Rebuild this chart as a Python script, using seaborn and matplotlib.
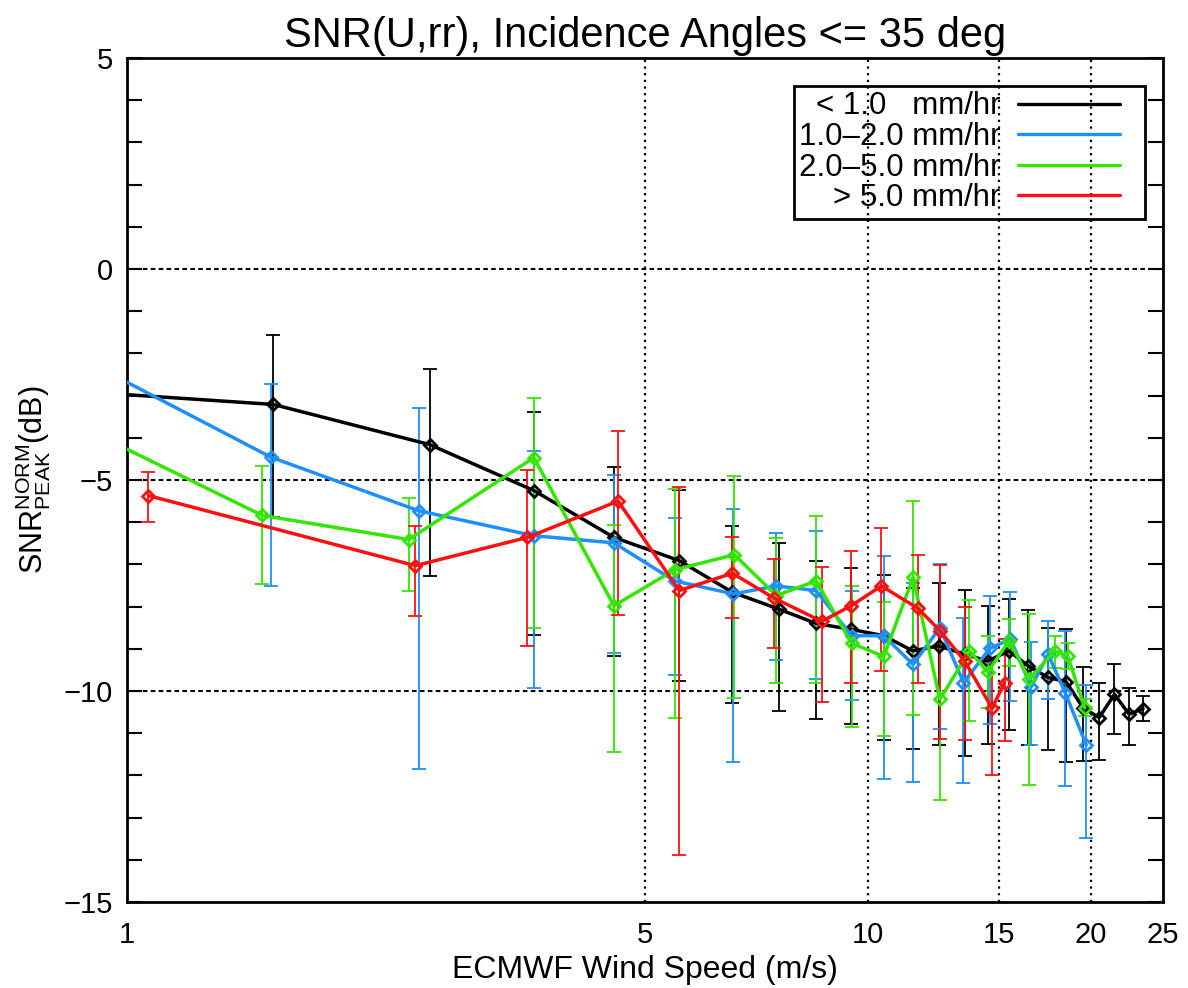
import numpy as np
import pandas as pd
import matplotlib
matplotlib.use("Agg")
import matplotlib.pyplot as plt
import seaborn as sns
from matplotlib.lines import Line2D
from matplotlib.legend_handler import HandlerBase
from matplotlib.ticker import FixedLocator, NullLocator, MultipleLocator

# ---------------- data ----------------
series_labels = ["< 1.0   mm/hr", "1.0\u20132.0 mm/hr", "2.0\u20135.0 mm/hr", "> 5.0 mm/hr"]
series_colors = ["#000000", "#1e8fff", "#33e600", "#ff1010"]

blk_x = [0.58, 1.576, 2.56, 3.54, 4.54, 5.56, 6.56, 7.58, 8.51, 9.49, 10.5, 11.49, 12.45,
         13.5, 14.5, 15.5, 16.45, 17.5, 18.5, 19.5, 20.5, 21.5, 22.5, 23.5]
blk_y = [-2.70, -3.21, -4.16, -5.25, -6.36, -6.91, -7.66, -8.06, -8.40, -8.54, -8.69, -9.05, -8.93,
         -9.13, -9.29, -9.05, -9.41, -9.68, -9.78, -10.40, -10.63, -10.08, -10.55, -10.42]
blk_lo = [-4.0, -5.88, -7.27, -8.67, -9.18, -9.76, -10.29, -10.47, -10.66, -10.78, -11.15, -11.37, -11.29,
          -11.54, -11.25, -10.93, -11.29, -11.39, -11.69, -11.66, -11.64, -11.01, -11.28, -10.71]
blk_hi = [-1.5, -1.57, -2.36, -3.39, -4.70, -5.23, -6.08, -6.50, -6.91, -7.09, -7.24, -7.56, -7.43,
          -7.61, -7.98, -7.82, -8.08, -8.50, -8.54, -9.43, -9.80, -9.35, -9.92, -10.12]

blu_x = [0.58, 1.564, 2.476, 3.54, 4.54, 5.48, 6.58, 7.52, 8.51, 9.5, 10.5, 11.5, 12.5,
         13.45, 14.6, 15.56, 16.6, 17.5, 18.45, 19.7]
blu_y = [-0.52, -4.46, -5.73, -6.32, -6.49, -7.39, -7.70, -7.51, -7.62, -8.69, -8.69, -9.37, -8.50,
         -9.80, -8.99, -8.77, -9.90, -9.13, -10.04, -11.28]
blu_lo = [-2.0, -7.52, -11.84, -9.92, -9.11, -9.63, -11.68, -9.26, -9.72, -10.22, -12.08, -12.15, -10.89,
          -12.18, -10.79, -10.24, -11.29, -10.20, -12.24, -13.48]
blu_hi = [1.0, -2.72, -3.29, -4.32, -4.88, -5.91, -5.68, -6.25, -6.20, -7.62, -6.81, -7.45, -6.98,
          -8.27, -7.74, -7.66, -8.85, -8.34, -8.57, -9.86]

grn_x = [0.58, 1.523, 2.40, 3.54, 4.54, 5.48, 6.6, 7.52, 8.51, 9.5, 10.5, 11.5, 12.5,
         13.7, 14.5, 15.5, 16.5, 17.85, 18.6, 19.6]
grn_y = [-2.24, -5.84, -6.41, -4.47, -7.98, -7.13, -6.77, -7.74, -7.39, -8.87, -9.18, -7.31, -10.20,
         -9.05, -9.55, -8.81, -9.72, -9.05, -9.18, -10.40]
grn_lo = [-3.5, -7.47, -7.64, -8.51, -11.44, -10.65, -10.16, -9.80, -9.80, -10.85, -11.07, -10.58, -12.59,
          -10.71, -10.40, -9.41, -12.22, -9.45, -9.49, -10.60]
grn_hi = [-1.0, -4.68, -5.42, -3.06, -6.06, -5.21, -4.91, -6.37, -5.86, -7.51, -7.88, -5.50, -8.60,
          -7.85, -8.70, -8.30, -8.18, -8.70, -8.87, -10.20]

red_x = [1.069, 2.45, 3.47, 4.60, 5.56, 6.56, 7.47, 8.66, 9.49, 10.42, 11.67, 12.5, 13.5, 14.7, 15.28]
red_y = [-5.37, -7.03, -6.36, -5.50, -7.62, -7.21, -7.80, -8.35, -7.98, -7.51, -8.04, -8.57, -9.29,
         -10.41, -9.80]
red_lo = [-5.99, -8.23, -8.93, -8.20, -13.88, -8.27, -8.99, -10.25, -9.82, -9.52, -9.82, -11.13, -11.15,
          -11.98, -11.19]
red_hi = [-4.81, -6.08, -4.76, -3.84, -5.17, -6.36, -6.87, -7.05, -6.69, -6.14, -6.78, -7.01, -8.02,
          -9.25, -8.77]

x_ticks = [1, 5, 10, 15, 20, 25]
x_ticklabels = ["1", "5", "10", "15", "20", "25"]
y_ticks = [5, 0, -5, -10, -15]
h_grid = [0, -5, -10]
v_grid = [5, 10, 15, 20]

# ---------------- build data frame ----------------
frames = []
for lab, xs, ys, lo, hi in zip(series_labels,
                               [blk_x, blu_x, grn_x, red_x],
                               [blk_y, blu_y, grn_y, red_y],
                               [blk_lo, blu_lo, grn_lo, red_lo],
                               [blk_hi, blu_hi, grn_hi, red_hi]):
    frames.append(pd.DataFrame({"wind": xs, "snr": ys, "lo": lo, "hi": hi, "rate": lab}))
df = pd.concat(frames, ignore_index=True)

# ---------------- figure ----------------
sns.set_style("ticks")
plt.rcParams["font.family"] = ["Liberation Sans", "DejaVu Sans"]
plt.rcParams["mathtext.fontset"] = "custom"
plt.rcParams["mathtext.rm"] = "Liberation Sans"
plt.rcParams["mathtext.it"] = "Liberation Sans"
plt.rcParams["axes.unicode_minus"] = True
for key in ["text.color", "axes.labelcolor", "xtick.color", "ytick.color", "axes.edgecolor"]:
    plt.rcParams[key] = "black"


class PartLine(HandlerBase):
    """Legend handle: a line that fills only the left part of the handle box."""
    def create_artists(self, legend, orig_handle, xdescent, ydescent, width, height,
                       fontsize, trans):
        y = height / 2.0 - ydescent
        ln = Line2D([-xdescent, -xdescent + 0.84 * width], [y, y],
                    color=orig_handle.get_color(), lw=orig_handle.get_linewidth())
        ln.set_transform(trans)
        return [ln]


fig = plt.figure(figsize=(11.88, 9.88), dpi=100)
ax = fig.add_axes([127 / 1188, 1 - 902 / 988, (1163 - 127) / 1188, (902 - 58) / 988])
ax.set_facecolor("white")

for y in h_grid:
    ax.axhline(y, color="black", lw=1.5, ls=(0, (2.2, 1.6)), zorder=1)
for x in v_grid:
    ax.axvline(x, color="black", lw=1.6, ls=(0, (1, 2)), zorder=1)

for lab, col in zip(series_labels, series_colors):
    sub = df[df["rate"] == lab]
    ax.errorbar(sub["wind"], sub["snr"],
                yerr=[sub["snr"] - sub["lo"], sub["hi"] - sub["snr"]],
                fmt="none", ecolor=col, elinewidth=1.3, capsize=5, capthick=1.3, zorder=2)
    sns.lineplot(data=sub, x="wind", y="snr", sort=False, estimator=None, ax=ax,
                 color=col, lw=2.5, marker="D", ms=6.5, mfc="none", mec=col, mew=2.0,
                 legend=False, zorder=3)

ax.set_xscale("log")
ax.set_xlim(1, 25)
ax.set_ylim(-15, 5)
ax.xaxis.set_major_locator(FixedLocator(x_ticks))
ax.set_xticklabels(x_ticklabels)
ax.xaxis.set_minor_locator(NullLocator())
ax.yaxis.set_major_locator(FixedLocator(y_ticks))
ax.yaxis.set_minor_locator(MultipleLocator(1))

ax.tick_params(axis="x", which="both", length=0, labelsize=21, pad=14)
ax.tick_params(axis="y", which="both", direction="in", left=True, right=True,
               length=10.5, width=1.5, labelsize=21, pad=10)

for sp in ax.spines.values():
    sp.set_linewidth(2.0)
    sp.set_color("black")

ax.set_title("SNR(U,rr), Incidence Angles <= 35 deg", fontsize=30, pad=8)
ax.set_xlabel("ECMWF Wind Speed (m/s)", fontsize=23, labelpad=4)
ax.set_ylabel(r"SNR$^{\mathrm{NORM}}_{\mathrm{PEAK}}$(dB)", fontsize=22, labelpad=8)

handles = [Line2D([], [], color=c, lw=2.4) for c in series_colors]
leg = ax.legend(handles, series_labels, loc="upper right", bbox_to_anchor=(0.983, 0.967),
                borderaxespad=0, markerfirst=False, fontsize=22.5, frameon=True, fancybox=False,
                framealpha=1, labelspacing=0.02, handlelength=3.9, handletextpad=0.55,
                borderpad=0.18, handler_map={Line2D: PartLine()})
frame = leg.get_frame()
frame.set_facecolor("none")
frame.set_edgecolor("black")
frame.set_linewidth(2.0)

fig.savefig("out.png", dpi=100, facecolor="white")
